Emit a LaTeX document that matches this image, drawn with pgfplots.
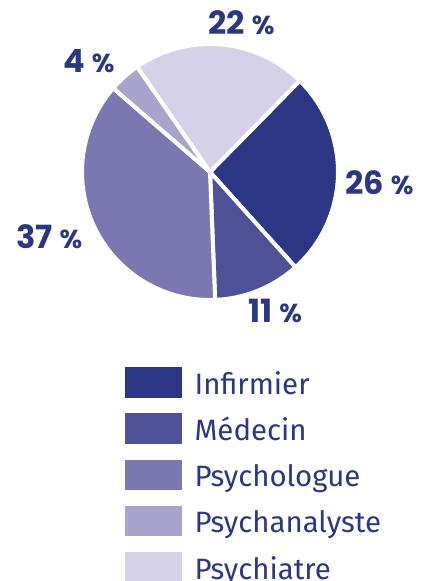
\documentclass[border=0pt]{standalone}
\usepackage{pgfplots}
\pgfplotsset{compat=1.18}
\usepackage{pgfplotstable}
\usepackage{fontspec}
\setmainfont{Fira Sans}
\newfontfamily\lblfont{Poppins}
\definecolor{txt}{HTML}{2B3784}
\definecolor{cA}{HTML}{2B3784}
\definecolor{cB}{HTML}{4F5197}
\definecolor{cC}{HTML}{7B78B1}
\definecolor{cD}{HTML}{A9A4CC}
\definecolor{cE}{HTML}{D5D1E8}

\pgfplotstableread{
label value
Infirmier 26
Médecin 11
Psychologue 37
Psychanalyste 4
Psychiatre 22
}\piedata

\gdef\angcur{45.5}
\pgfplotstableforeachcolumnelement{value}\of\piedata\as\val{%
  \expandafter\xdef\csname angS\pgfplotstablerow\endcsname{\angcur}%
  \pgfmathsetmacro\angnext{\angcur-3.6*\val}%
  \expandafter\xdef\csname angE\pgfplotstablerow\endcsname{\angnext}%
  \xdef\angcur{\angnext}%
}

\newcommand\pieslice[2]{%
  \fill[#2, draw=white, line width=2pt, line join=miter]
    (axis cs:210,-172) -- ++(\csname angS#1\endcsname:64pt)
    arc[start angle=\csname angS#1\endcsname, end angle=\csname angE#1\endcsname, radius=64pt] -- cycle;}

\newcommand\pct[1]{{\lblfont\fontsize{16}{16}\selectfont\bfseries #1}\hspace{3.4pt}{\lblfont\fontsize{13}{13}\selectfont\bfseries\%}}

\begin{document}
\begin{tikzpicture}
\begin{axis}[
  scale only axis, width=210pt, height=290.5pt,
  xmin=0, xmax=420, ymin=-581, ymax=0,
  hide axis, clip=false,
  legend cell align=left,
  legend style={at={(axis cs:125,-367.3)}, anchor=north west, draw=none, fill=none,
    overlay, inner sep=0pt, outer sep=0pt, row sep=5.6pt, column sep=6.5pt,
    cells={anchor=base west},
    nodes={inner sep=0pt, text depth=4pt, font=\fontsize{14.7}{14.7}\selectfont, text=txt}},
  legend image code/.code={\fill[#1, draw=none] (0pt,-1.75pt) rectangle (28.3pt,13.5pt);},
]
\path (axis cs:0,0) rectangle (axis cs:420,-581);
\pieslice{0}{cA}
\pieslice{1}{cB}
\pieslice{2}{cC}
\pieslice{3}{cD}
\pieslice{4}{cE}
\addlegendimage{fill=cA}\addlegendentry{Infirmier}
\addlegendimage{fill=cB}\addlegendentry{Médecin}
\addlegendimage{fill=cC}\addlegendentry{Psychologue}
\addlegendimage{fill=cD}\addlegendentry{Psychanalyste}
\addlegendimage{fill=cE}\addlegendentry{Psychiatre}
\node[anchor=base west, text=txt, inner sep=0pt] at (axis cs:208,-35) {\pct{22}};
\node[anchor=base west, text=txt, inner sep=0pt] at (axis cs:63,-73) {\pct{4}};
\node[anchor=base west, text=txt, inner sep=0pt] at (axis cs:345,-195) {\pct{26}};
\node[anchor=base west, text=txt, inner sep=0pt] at (axis cs:16,-249) {\pct{37}};
\node[anchor=base west, text=txt, inner sep=0pt] at (axis cs:248,-323) {\pct{11}};
\end{axis}
\end{tikzpicture}
\end{document}
